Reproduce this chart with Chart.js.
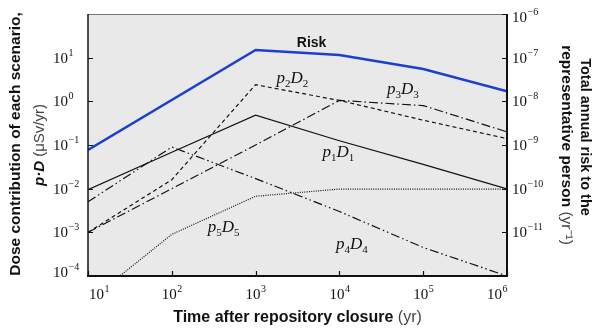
<!DOCTYPE html>
<html>
<head>
<meta charset="utf-8">
<script src="https://cdn.jsdelivr.net/npm/chart.js@4"></script>
<style>
  html, body { margin: 0; padding: 0; background: #fff; }
  canvas { display: block; }
</style>
</head>
<body>
<canvas id="myChart" width="598" height="329" style="width:598px;height:329px"></canvas>
<script>
const Years = [1e1, 1e2, 1e3, 1e4, 1e5, 1e6];
const P1D1 = [0.0095, 0.068, 0.48, 0.125, 0.036, 0.0099];
const P2D2 = [0.001, 0.016, 2.4, 1.05, 0.37, 0.14];
const P3D3 = [0.001, 0.01, 0.1, 1.05, 0.8, 0.2];
const P4D4 = [0.005, 0.09, 0.017, 0.003, 0.00045, 0.0001];
const P5D5 = [0.000026, 0.0009, 0.0067, 0.0098, 0.0098, 0.0098];
const Risk_years = [1e1, 1e3, 1e4, 1e5, 1e6];
const Risk = [7.7e-10, 1.5e-7, 1.15e-7, 5.5e-8, 1.7e-8];

const X_exp = [1, 2, 3, 4, 5, 6];
const Left_exp = [1, 0, -1, -2, -3, -4];
const Right_exp = [-6, -7, -8, -9, -10, -11];

// curve names, anchored in data units (left edge, baseline)
const Curve_names = [
  {idx: "1", x: 6300, y: 0.053},
  {idx: "2", x: 1780, y: 2.6},
  {idx: "3", x: 37000, y: 1.5},
  {idx: "4", x: 9100, y: 0.00041},
  {idx: "5", x: 268, y: 0.001},
];

const SANS = "'Liberation Sans', Arial, sans-serif";
const SERIF = "'Liberation Serif', 'Times New Roman', serif";

function pts(ys, xs) {
  xs = xs || Years;
  return xs.map((x, i) => ({x: x, y: ys[i]}));
}

function sup_text(e) {
  return e < 0 ? "\u2212" + (-e) : String(e);
}

// "10^e" label; align: 'left', 'center', 'right'
function draw_pow(ctx, e, x, y, align) {
  ctx.font = "15px " + SERIF;
  const w1 = ctx.measureText("10").width;
  ctx.font = "10px " + SERIF;
  const w2 = ctx.measureText(sup_text(e)).width;
  let x0 = x;
  if (align == 'center') x0 = x - (w1 + w2) / 2;
  if (align == 'right') x0 = x - (w1 + w2);
  ctx.textAlign = 'left';
  ctx.textBaseline = 'alphabetic';
  ctx.fillStyle = '#111';
  ctx.font = "15px " + SERIF;
  ctx.fillText("10", x0, y + 5);
  ctx.font = "10px " + SERIF;
  ctx.fillText(sup_text(e), x0 + w1 + 0.5, y - 2);
  return x0;
}

// pieces: [text, font, color]
function draw_pieces(ctx, pieces, cx, cy, angle) {
  ctx.save();
  ctx.translate(cx, cy);
  ctx.rotate(angle);
  let total = 0;
  for (const p of pieces) { ctx.font = p[1]; total += ctx.measureText(p[0]).width; }
  let x = -total / 2;
  ctx.textBaseline = 'middle';
  ctx.textAlign = 'left';
  for (const p of pieces) {
    ctx.font = p[1];
    ctx.fillStyle = p[2];
    ctx.fillText(p[0], x, 0);
    x += ctx.measureText(p[0]).width;
  }
  ctx.restore();
}

const framePlugin = {
  id: 'frame',
  beforeDatasetsDraw(chart) {
    const {ctx, chartArea: a} = chart;
    ctx.save();
    ctx.fillStyle = '#e9e9e9';
    ctx.fillRect(a.left, a.top, a.right - a.left, a.bottom - a.top);
    ctx.restore();
  },
  afterDraw(chart) {
    const {ctx, chartArea: a} = chart;
    const xs = chart.scales.x, yl = chart.scales.y, yr = chart.scales.y2;
    ctx.save();

    // frame
    ctx.strokeStyle = '#777';
    ctx.lineWidth = 1;
    ctx.beginPath(); ctx.moveTo(a.left, a.top + 0.5); ctx.lineTo(a.right, a.top + 0.5); ctx.stroke();
    ctx.strokeStyle = '#111';
    ctx.lineWidth = 1.5;
    ctx.beginPath(); ctx.moveTo(a.left, a.top); ctx.lineTo(a.left, a.bottom); ctx.stroke();
    ctx.lineWidth = 2;
    ctx.beginPath(); ctx.moveTo(a.right, a.top); ctx.lineTo(a.right, a.bottom + 1); ctx.stroke();
    ctx.beginPath(); ctx.moveTo(a.left - 1, a.bottom); ctx.lineTo(a.right + 1, a.bottom); ctx.stroke();

    // ticks (inward)
    ctx.lineWidth = 1.2;
    ctx.beginPath();
    for (const e of X_exp) {
      const px = Math.round(xs.getPixelForValue(Math.pow(10, e))) + 0.5;
      ctx.moveTo(px, a.bottom); ctx.lineTo(px, a.bottom - 5);
    }
    for (const e of Left_exp) {
      const py = Math.round(yl.getPixelForValue(Math.pow(10, e))) + 0.5;
      ctx.moveTo(a.left, py); ctx.lineTo(a.left + 5, py);
    }
    for (const e of Right_exp) {
      const py = Math.round(yr.getPixelForValue(Math.pow(10, e))) + 0.5;
      ctx.moveTo(a.right, py); ctx.lineTo(a.right - 5, py);
    }
    ctx.stroke();

    // tick labels
    for (const e of X_exp) {
      const px = xs.getPixelForValue(Math.pow(10, e));
      let align = 'center', x = px;
      if (e == X_exp[0]) { align = 'left'; x = px + 1; }
      if (e == X_exp[X_exp.length - 1]) { align = 'right'; }
      draw_pow(ctx, e, x, a.bottom + 18, align);
    }
    for (const e of Left_exp) {
      draw_pow(ctx, e, 53, yl.getPixelForValue(Math.pow(10, e)) - (e == -4 ? 4 : 0), 'left');
    }
    for (const e of Right_exp) {
      draw_pow(ctx, e, a.right + 5, yr.getPixelForValue(Math.pow(10, e)) + (e == -6 ? 3 : 0), 'left');
    }

    // axis titles
    const bold = "bold 16px " + SANS, light = "16px " + SANS;
    draw_pieces(ctx, [["Time after repository closure ", bold, '#111'], ["(yr)", light, '#444']],
      (a.left + a.right) / 2, 318, 0);
    const b15 = "bold 15.5px " + SANS, l15 = "15.5px " + SANS;
    const cy = (a.top + a.bottom) / 2;
    draw_pieces(ctx, [["Dose contribution of each scenario,", b15, '#111']], 16, cy - 1, -Math.PI / 2);
    draw_pieces(ctx, [["p\u00b7D", "italic bold 15px " + SANS, '#111'], [" (\u03bcSv/yr)", "15px " + SANS, '#444']],
      40, cy, -Math.PI / 2);
    draw_pieces(ctx, [["Total annual risk to the", "bold 14.5px " + SANS, '#111']], 585, cy - 8, Math.PI / 2);
    draw_pieces(ctx, [["representative person ", b15, '#111'], ["(yr\u207b\u00b9)", l15, '#444']],
      566, cy, Math.PI / 2);

    // curve names
    ctx.textAlign = 'left';
    ctx.textBaseline = 'alphabetic';
    ctx.fillStyle = '#111';
    for (const c of Curve_names) {
      let x = xs.getPixelForValue(c.x);
      const y = yl.getPixelForValue(c.y);
      ctx.font = "italic 17px " + SERIF;
      ctx.fillText("p", x, y); x += ctx.measureText("p").width;
      ctx.font = "11px " + SERIF;
      ctx.fillText(c.idx, x, y + 4); x += ctx.measureText(c.idx).width;
      ctx.font = "italic 17px " + SERIF;
      ctx.fillText("D", x, y); x += ctx.measureText("D").width;
      ctx.font = "11px " + SERIF;
      ctx.fillText(c.idx, x, y + 4);
    }
    ctx.font = "bold 14px " + SANS;
    ctx.fillText("Risk", xs.getPixelForValue(3100), yl.getPixelForValue(17.8));
    ctx.restore();
  }
};

const black = {borderColor: '#111', borderWidth: 1.2, pointRadius: 0, yAxisID: 'y', tension: 0};

const chart = new Chart("myChart", {
  type: "line",
  data: {
    datasets: [
      {label: "Risk", data: pts(Risk, Risk_years), yAxisID: 'y2', borderColor: '#1b3fd0', borderWidth: 2.5, pointRadius: 0},
      Object.assign({label: "p1D1", data: pts(P1D1)}, black),
      Object.assign({label: "p2D2", data: pts(P2D2), borderDash: [4, 3]}, black),
      Object.assign({label: "p3D3", data: pts(P3D3), borderDash: [9, 3, 1.5, 3]}, black),
      Object.assign({label: "p4D4", data: pts(P4D4), borderDash: [9, 3, 1.5, 3, 1.5, 3]}, black),
      Object.assign({label: "p5D5", data: pts(P5D5), borderDash: [1, 1.3]}, black),
    ]
  },
  options: {
    responsive: false,
    animation: false,
    devicePixelRatio: 1,
    layout: {padding: {left: 88, right: 91, top: 14, bottom: 53}},
    plugins: {legend: {display: false}, tooltip: {enabled: false}},
    scales: {
      x: {type: 'logarithmic', min: 1e1, max: 1e6, display: false},
      y: {type: 'logarithmic', min: 1e-4, max: 1e2, display: false, position: 'left'},
      y2: {type: 'logarithmic', min: 1e-12, max: 1e-6, display: false, position: 'right'},
    },
  },
  plugins: [framePlugin],
});
</script>
</body>
</html>
